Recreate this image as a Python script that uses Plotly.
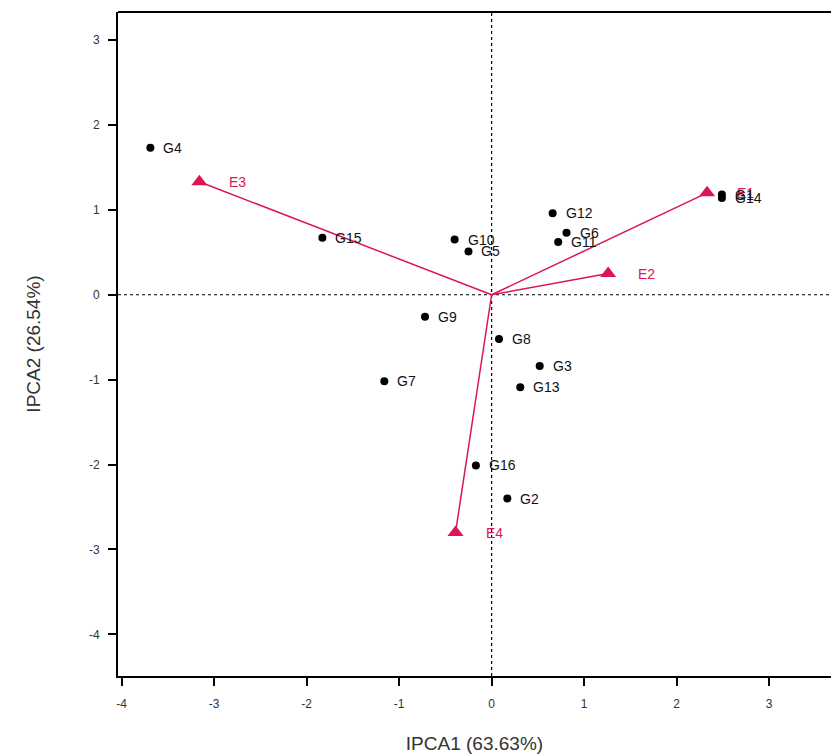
import plotly.graph_objects as go

genotypes = ["G1", "G2", "G3", "G4", "G5", "G6", "G7", "G8", "G9", "G10",
             "G11", "G12", "G13", "G14", "G15", "G16"]
g_x = [2.49, 0.17, 0.52, -3.69, -0.25, 0.81, -1.16, 0.08, -0.72, -0.40,
       0.72, 0.66, 0.31, 2.49, -1.83, -0.17]
g_y = [1.18, -2.40, -0.84, 1.73, 0.51, 0.73, -1.02, -0.52, -0.26, 0.65,
       0.62, 0.96, -1.09, 1.14, 0.67, -2.01]

envs = ["E1", "E2", "E3", "E4"]
e_x = [2.33, 1.26, -3.16, -0.39]
e_y = [1.20, 0.25, 1.33, -2.80]

x_ticks = [-4, -3, -2, -1, 0, 1, 2, 3]
x_tick_labels = ["-4", "-3", "-2", "-1", "0", "1", "2", "3"]
y_ticks = [-4, -3, -2, -1, 0, 1, 2, 3]
y_tick_labels = ["-4", "-3", "-2", "-1", "0", "1", "2", "3"]

RED = "#dc1652"
FONT = "Liberation Sans, Arial, sans-serif"

fig = go.Figure()

# environment vectors
for ex, ey in zip(e_x, e_y):
    fig.add_trace(go.Scatter(x=[0, ex], y=[0, ey], mode="lines",
                             line=dict(color=RED, width=1.5),
                             showlegend=False, hoverinfo="skip"))

# genotype points
fig.add_trace(go.Scatter(x=g_x, y=g_y, mode="markers",
                         marker=dict(color="black", size=8),
                         showlegend=False))

# environment triangles
fig.add_trace(go.Scatter(x=e_x, y=e_y, mode="markers",
                         marker=dict(color=RED, size=14, symbol="triangle-up"),
                         showlegend=False))

for name, ex, ey in zip(envs, e_x, e_y):
    fig.add_annotation(x=ex, y=ey, text=name, showarrow=False,
                       xanchor="left", xshift=28,
                       font=dict(family=FONT, size=14, color=RED))

for name, gx, gy in zip(genotypes, g_x, g_y):
    fig.add_annotation(x=gx, y=gy, text=name, showarrow=False,
                       xanchor="left", xshift=11,
                       font=dict(family=FONT, size=14, color="#111111"))

fig.update_layout(
    width=831, height=755,
    margin=dict(l=118, r=0, t=12, b=79, autoexpand=False),
    paper_bgcolor="white", plot_bgcolor="white",
    font=dict(family=FONT),
    xaxis=dict(range=[-4.04, 3.67], tickvals=x_ticks, ticktext=x_tick_labels,
               showgrid=False, zeroline=False, automargin=False,
               showline=True, linecolor="black", linewidth=2,
               ticks="outside", ticklen=8, tickcolor="black", tickwidth=2,
               ticklabelstandoff=8,
               tickfont=dict(size=12, color="#333333"),
               title=dict(text="IPCA1 (63.63%)",
                          font=dict(size=19, color="#333333"), standoff=26)),
    yaxis=dict(range=[-4.49, 3.33], tickvals=y_ticks, ticktext=y_tick_labels,
               showgrid=False, zeroline=False, automargin=False,
               showline=True, linecolor="black", linewidth=2,
               ticks="outside", ticklen=8, tickcolor="black", tickwidth=2,
               ticklabelstandoff=6,
               tickfont=dict(size=12, color="#333333"),
               title=dict(text="IPCA2 (26.54%)",
                          font=dict(size=19, color="#333333"), standoff=43)),
)

# dotted reference lines
fig.add_shape(type="line", xref="x", yref="paper", x0=0, x1=0, y0=0, y1=1,
              line=dict(color="black", width=1.2, dash="dot"), layer="below")
fig.add_shape(type="line", xref="paper", yref="y", x0=0, x1=1, y0=0, y1=0,
              line=dict(color="black", width=1.2, dash="dot"), layer="below")
# top border
fig.add_shape(type="line", xref="paper", yref="paper", x0=0, x1=1, y0=1, y1=1,
              line=dict(color="black", width=2))

fig.write_html("out.html",
               config={"displayModeBar": False},
               post_script="document.body.style.margin='0';"
                           "document.body.style.overflow='hidden';")
